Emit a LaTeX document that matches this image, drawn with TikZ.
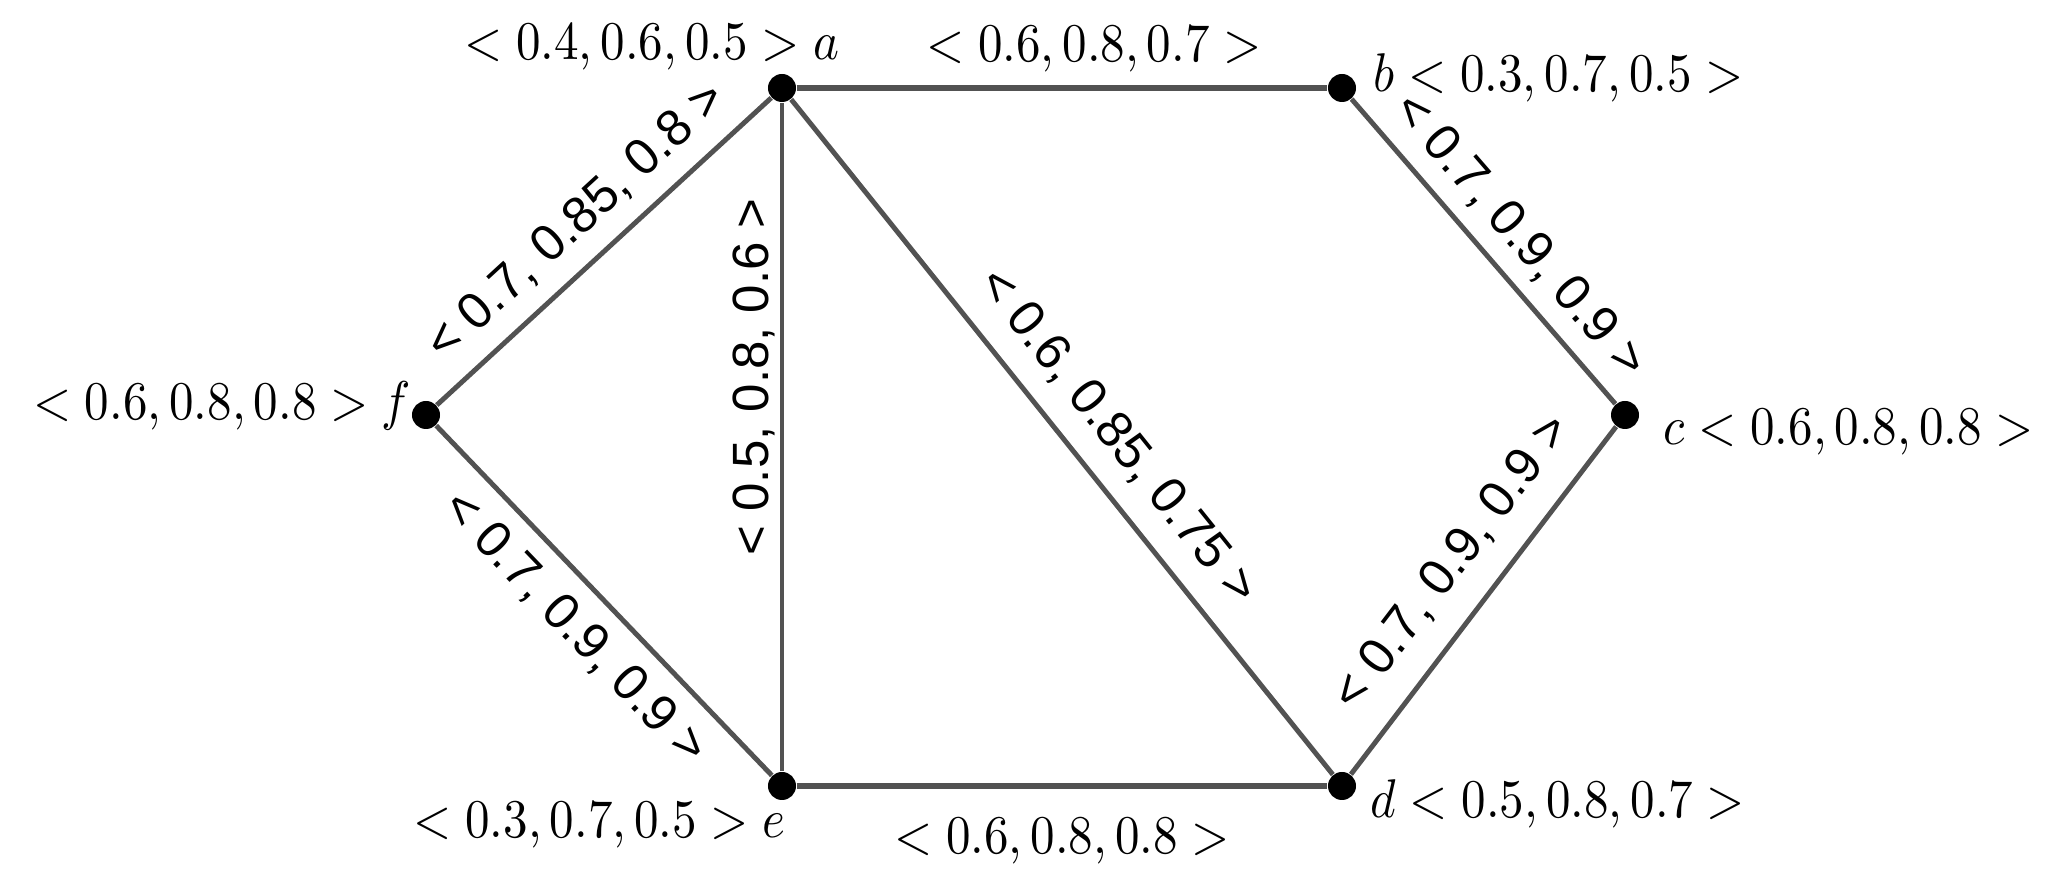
\documentclass[tikz,border=0pt]{standalone}
\usepackage{fontspec}
\usepackage{graphicx}
\newfontfamily\edgefont{Liberation Sans}
\newcommand\vtxt[1]{\scalebox{1.395}[1.55]{$#1$}}
\tikzset{
  vertex/.style={circle, fill=black, inner sep=0pt, minimum size=0.28cm},
  edge/.style={draw=black!68, line width=1.4pt},
  hedge/.style={draw=black!68, line width=1.8pt},
  vlabel/.style={inner sep=0pt},
  mlabel/.style={inner sep=0pt, anchor=base},
  elabel/.style={sloped, inner xsep=1pt, font=\edgefont\fontsize{14.5}{17}\selectfont},
}
\begin{document}
\begin{tikzpicture}[x=0.01cm, y=-0.01cm]
\useasboundingbox (0,0) rectangle (2059,892);
% vertices
\node[vertex] (a) at (782,88) {};
\node[vertex] (b) at (1342,88) {};
\node[vertex] (c) at (1625,415) {};
\node[vertex] (d) at (1342,786) {};
\node[vertex] (e) at (782,786) {};
\node[vertex] (f) at (426,415) {};
% vertex labels
\node[vlabel, anchor=base east] (la) at (840,60) {\vtxt{<0.4,0.6,0.5>a}};
\node[vlabel, anchor=base west] (lb) at (1373,92) {\vtxt{b<0.3,0.7,0.5>}};
\node[vlabel, anchor=base west] (lc) at (1663,445) {\vtxt{c<0.6,0.8,0.8>}};
\node[vlabel, anchor=base west] (ld) at (1370,818) {\vtxt{d<0.5,0.8,0.7>}};
\node[vlabel, anchor=base east] (le) at (786,838) {\vtxt{<0.3,0.7,0.5>e}};
\node[vlabel, anchor=base east] (lf) at (412,420) {\vtxt{<0.6,0.8,0.8>f}};
% edges
\draw[hedge] (a) -- node[mlabel, pos=0.56, yshift=0.26cm] (lab) {\vtxt{<0.6,0.8,0.7>}} (b);
\draw[hedge] (e) -- node[mlabel, pos=0.5, yshift=-0.67cm] (led) {\vtxt{<0.6,0.8,0.8>}} (d);
\draw[edge] (f) -- node[elabel, above, pos=0.5, inner ysep=0.17cm] (lfa) {< 0.7, 0.85, 0.8 >} (a);
\draw[edge] (f) -- node[elabel, below, pos=0.5, inner ysep=0.17cm] (lfe) {< 0.7, 0.9, 0.9 >} (e);
\draw[edge] (e) -- node[elabel, above, pos=0.59, inner ysep=0.05cm] (lea) {< 0.5, 0.8, 0.6 >} (a);
\draw[edge] (a) -- node[elabel, above, pos=0.54, inner ysep=0.2cm] (lad) {< 0.6, 0.85, 0.75 >} (d);
\draw[edge] (b) -- node[elabel, above, pos=0.53, inner ysep=0.14cm] (lbc) {< 0.7, 0.9, 0.9 >} (c);
\draw[edge] (d) -- node[elabel, above, pos=0.525, inner ysep=0.24cm] (ldc) {< 0.7, 0.9, 0.9 >} (c);
\end{tikzpicture}
\end{document}
